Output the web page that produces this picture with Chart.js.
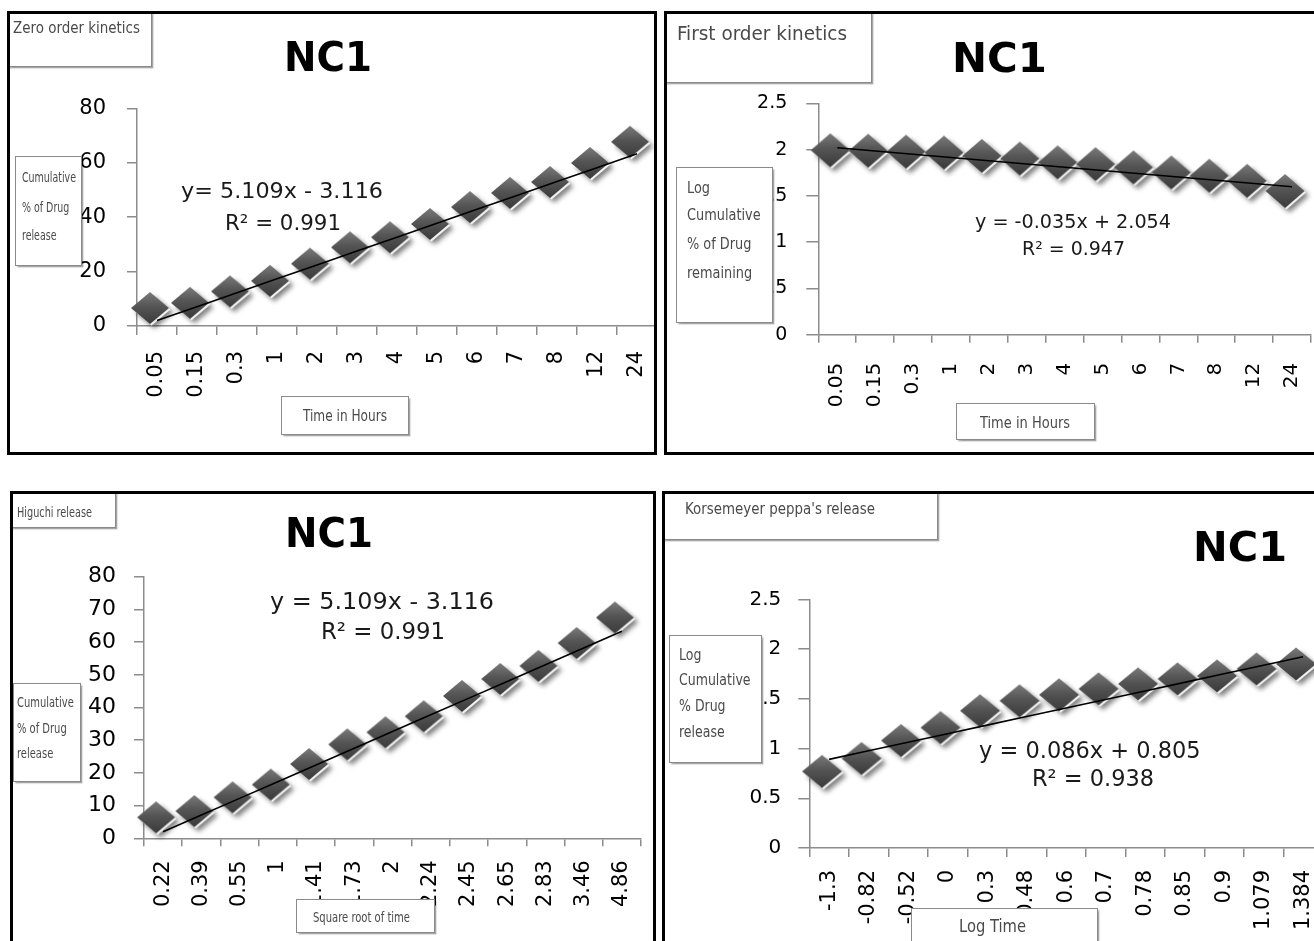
<!DOCTYPE html>
<html>
<head>
<meta charset="utf-8">
<title>NC1 release kinetics</title>
<script src="https://cdn.jsdelivr.net/npm/chart.js@4.4.1/dist/chart.umd.min.js"></script>
<style>
html,body{margin:0;padding:0;background:#fff;}
body{width:1314px;height:941px;position:relative;overflow:hidden;}
.panel{position:absolute;border:3px solid #000;box-sizing:border-box;overflow:hidden;background:#fff;}
.panel canvas{position:absolute;left:0;top:0;}
.box{position:absolute;background:#fff;border:1px solid #8a8a8a;box-sizing:border-box;box-shadow:1.5px 1.5px 1.5px rgba(0,0,0,0.35);}
.txt{position:absolute;white-space:nowrap;transform-origin:0 50%;}
</style>
</head>
<body>
<script>
// ---------- data ----------
const timeHours = ['0.05','0.15','0.3','1','2','3','4','5','6','7','8','12','24'];
const sqrtTime  = ['0.22','0.39','0.55','1','1.41','1.73','2','2.24','2.45','2.65','2.83','3.46','4.86'];
const logTime   = ['-1.3','-0.82','-0.52','0','0.3','0.48','0.6','0.7','0.78','0.85','0.9','1.079','1.384'];

const zeroOrderRelease = [5.5, 7.4, 11.6, 15.5, 21.8, 27.8, 31.5, 36.4, 42.6, 47.8, 51.8, 58.8, 66.6];
const firstOrderLogRemaining = [1.96, 1.955, 1.945, 1.935, 1.90, 1.87, 1.83, 1.81, 1.775, 1.72, 1.685, 1.63, 1.52];
const higuchiRelease = [5.5, 7.4, 11.6, 15.5, 21.8, 27.8, 31.5, 36.4, 42.6, 47.8, 51.8, 58.8, 66.6];
const korsmeyerLogRelease = [0.74, 0.87, 1.05, 1.18, 1.35, 1.45, 1.51, 1.57, 1.62, 1.67, 1.70, 1.77, 1.82];

// trendline coefficients as printed on the charts [slope, intercept]
const zeroFit = [5.109, -3.116];
const firstFit = [-0.035, 2.054];
const higuchiFit = [5.109, -3.116];
const korsmeyerFit = [0.086, 0.805];

const NUM_FONT = 'DejaVu Sans';
const BOX_FONT = '"Liberation Sans Narrow", "DejaVu Sans Condensed", sans-serif';

// ---------- helpers ----------
const mctx = document.createElement('canvas').getContext('2d');
function measure(str, font){ mctx.font = font; return mctx.measureText(str).width; }

function makeDiamond(w, h, dx, dy){
  const pad = 10;
  const cw = Math.ceil((w/2 + Math.abs(dx) + pad)) * 2;
  const ch = Math.ceil((h/2 + Math.abs(dy) + pad)) * 2;
  const c = document.createElement('canvas'); c.width = cw; c.height = ch;
  const g = c.getContext('2d');
  const cx = cw/2 + dx, cy = ch/2 + dy;
  const path = (ox, oy) => {
    g.beginPath();
    g.moveTo(cx + ox - w/2, cy + oy);
    g.lineTo(cx + ox, cy + oy - h/2);
    g.lineTo(cx + ox + w/2, cy + oy);
    g.lineTo(cx + ox, cy + oy + h/2);
    g.closePath();
  };
  g.save();
  g.shadowColor = 'rgba(0,0,0,0.5)'; g.shadowBlur = 5; g.shadowOffsetX = 3; g.shadowOffsetY = 3;
  path(1.5, 1.5); g.fillStyle = '#f2f2f2'; g.fill();
  g.restore();
  const grad = g.createLinearGradient(cx, cy - h/2, cx, cy + h/2);
  grad.addColorStop(0, '#7a7a7a'); grad.addColorStop(0.45, '#555555'); grad.addColorStop(1, '#3a3a3a');
  path(0, 0); g.fillStyle = grad; g.fill();
  return c;
}

function addBox(pel, org, x1, y1, x2, y2, edgesOnly){
  const d = document.createElement('div'); d.className = 'box';
  d.style.left = (x1 - org.x) + 'px'; d.style.top = (y1 - org.y) + 'px';
  d.style.width = (x2 - x1) + 'px'; d.style.height = (y2 - y1) + 'px';
  if (edgesOnly){ d.style.borderLeft = 'none'; d.style.borderTop = 'none'; }
  pel.appendChild(d);
}
function addText(pel, org, str, x, cy, size, family, weight, color, width, align, scaleOverride){
  const font = `${weight} ${size}px ${family}`;
  const w = measure(str, font);
  const sc = scaleOverride || (width ? width / w : 1);
  const left = align === 'center' ? x - (w * sc) / 2 : x;
  const s = document.createElement('div'); s.className = 'txt';
  s.textContent = str; s.style.font = font; s.style.lineHeight = size + 'px'; s.style.color = color;
  s.style.left = (left - org.x) + 'px'; s.style.top = (cy - size/2 - org.y) + 'px';
  s.style.transform = `scaleX(${sc})`;
  pel.appendChild(s);
  return sc;
}

// ---------- panel layout ----------
const specs = [
  { panel:{x:7,y:11,w:650,h:444}, area:{l:137,r:657,t:108.3,b:326},
    labels: timeHours, values: zeroOrderRelease, fit: zeroFit,
    yMax:80, yStep:20, yFont:21, yTick:10, yPad:21, xFont:21, xTick:9, xPad:16, dia:[38,32],
    title:{cx:328, cy:56.7, w:88},
    tBox:{r:[7,11,152,67], text:'Zero order kinetics', left:13, cy:27.7, w:127, fs:16},
    yBox:{r:[14.7,156,82,265.7], lines:['Cumulative','% of Drug','release'], cys:[176.7,206.7,235], left:22, w:54, fs:14},
    xBox:{r:[281,396,409,435], text:'Time in Hours', cx:345, cy:416, w:84, fs:15},
    eq:{fs:22, lines:[['y= 5.109x - 3.116',282,191,202],['R\u00b2 = 0.991',283,223,116]]} },
  { panel:{x:664,y:11,w:660,h:444}, area:{l:818.3,r:1312.5,t:103.3,b:334.7},
    labels: timeHours, values: firstOrderLogRemaining, fit: firstFit,
    yMax:2.5, yStep:0.5, yFont:19, yTick:12, yPad:19, xFont:20, xTick:8, xPad:20, dia:[39,34],
    title:{cx:999.6, cy:57.5, w:95},
    tBox:{r:[664,11,872.4,83.3], text:'First order kinetics', left:676.8, cy:32.7, w:170, fs:20},
    yBox:{r:[676,166.7,772.7,323.3], lines:['Log','Cumulative','% of Drug','remaining'], cys:[188.3,215.7,244,273.3], left:687.3, w:73.6, fs:15},
    xBox:{r:[955.6,403.3,1095,440], text:'Time in Hours', cx:1025, cy:422.7, w:90, fs:16},
    eq:{fs:19, lines:[['y = -0.035x + 2.054',1072.8,221.7,196],['R\u00b2 = 0.947',1073,248.3,103]]} },
  { panel:{x:10,y:491,w:646,h:460}, area:{l:144,r:641,t:576.7,b:838.3},
    labels: sqrtTime, values: higuchiRelease, fit: higuchiFit,
    yMax:80, yStep:10, yFont:22, yTick:10, yPad:18, xFont:21, xTick:8, xPad:14, dia:[38,32],
    title:{cx:329, cy:533, w:88},
    tBox:{r:[10,491,115.6,528.3], text:'Higuchi release', left:16.8, cy:511.7, w:75, fs:14},
    yBox:{r:[12.6,683.3,80.7,781.7], lines:['Cumulative','% of Drug','release'], cys:[701.7,728.3,753.3], left:16.8, w:56.8, fs:14},
    xBox:{r:[296,899.3,435,933.3], text:'Square root of time', cx:361, cy:916.7, w:97, fs:14},
    eq:{fs:23.5, lines:[['y = 5.109x - 3.116',382,602,224],['R\u00b2 = 0.991',383,632,124]]} },
  { panel:{x:662,y:491,w:660,h:460}, area:{l:809.3,r:1322.8,t:599.3,b:848},
    labels: logTime, values: korsmeyerLogRelease, fit: korsmeyerFit,
    yMax:2.5, yStep:0.5, yFont:20, yTick:11, yPad:17, xFont:21, xTick:9, xPad:13, dia:[40,33],
    title:{cx:1240, cy:546.7, w:94},
    tBox:{r:[662,491,938,540], text:"Korsemeyer peppa's release", left:685, cy:509.3, w:190, fs:15},
    yBox:{r:[669.3,635,761.8,763.3], lines:['Log','Cumulative','% Drug','release'], cys:[655,680,706.7,732.3], left:679, w:71.5, fs:15},
    xBox:{r:[911,908.3,1098,960], text:'Log Time', cx:992, cy:926.7, w:67, fs:17},
    eq:{fs:22.5, lines:[['y = 0.086x + 0.805',1090,750,221.6],['R\u00b2 = 0.938',1093,778.7,122]]} }
];

Chart.defaults.font.family = NUM_FONT;

function buildPanel(spec){
  const P = spec.panel, A = spec.area;
  const pel = document.createElement('div'); pel.className = 'panel';
  pel.style.left = P.x + 'px'; pel.style.top = P.y + 'px';
  pel.style.width = P.w + 'px'; pel.style.height = P.h + 'px';
  document.body.appendChild(pel);
  const org = {x: P.x + 3, y: P.y + 3};

  const padRight = 24, xH = 90;
  const W = Math.round(A.r - org.x + padRight);
  const H = Math.round(A.b - org.y + xH);
  const cv = document.createElement('canvas');
  cv.width = W; cv.height = H; cv.style.width = W + 'px'; cv.style.height = H + 'px';
  pel.appendChild(cv);
  const yW = A.l - org.x;
  const padTop = A.t - org.y;
  const xHeight = H - (A.b - org.y);
  const realRight = W - (A.r - org.x);

  const trend = spec.labels.map((_, i) => spec.fit[0] * (i + 1) + spec.fit[1]);
  const axisGray = '#8c8c8c';

  new Chart(cv, {
    type: 'line',
    data: {
      labels: spec.labels,
      datasets: [
        { data: trend, borderColor: '#000', borderWidth: 1.6, pointRadius: 0, fill: false, tension: 0, order: 0 },
        { data: spec.values, showLine: false, pointStyle: makeDiamond(spec.dia[0], spec.dia[1], -7, -3),
          pointRadius: 15, order: 1, clip: false }
      ]
    },
    options: {
      responsive: false, animation: false, events: [],
      layout: { padding: { left: 0, top: padTop, right: realRight, bottom: 0 } },
      plugins: { legend: { display: false }, tooltip: { enabled: false }, title: { display: false } },
      scales: {
        x: {
          type: 'category', offset: true,
          grid: { offset: true, drawOnChartArea: false, drawTicks: true, tickLength: spec.xTick, color: axisGray, lineWidth: 1.5 },
          border: { display: true, color: axisGray, width: 1.5 },
          ticks: { autoSkip: false, minRotation: 90, maxRotation: 90, padding: spec.xPad, color: '#000',
                   font: { family: NUM_FONT, size: spec.xFont } },
          afterFit: s => { s.height = xHeight; }
        },
        y: {
          min: 0, max: spec.yMax,
          grid: { drawOnChartArea: false, drawTicks: true, tickLength: spec.yTick, color: axisGray, lineWidth: 1.5 },
          border: { display: true, color: axisGray, width: 1.5 },
          ticks: { stepSize: spec.yStep, padding: spec.yPad, color: '#000',
                   font: { family: NUM_FONT, size: spec.yFont },
                   callback: v => String(+Number(v).toFixed(2)) },
          afterFit: s => { s.width = yW; }
        }
      }
    }
  });

  // overlays
  const tb = spec.tBox;
  addBox(pel, org, tb.r[0], tb.r[1], tb.r[2], tb.r[3], true);
  addText(pel, org, tb.text, tb.left, tb.cy, tb.fs, BOX_FONT, 'normal', '#4a4a4a', tb.w, 'left');

  const yb = spec.yBox;
  addBox(pel, org, yb.r[0], yb.r[1], yb.r[2], yb.r[3], false);
  const sc = measure('Cumulative', `normal ${yb.fs}px ${BOX_FONT}`);
  const scale = yb.w / sc;
  yb.lines.forEach((ln, i) => addText(pel, org, ln, yb.left, yb.cys[i], yb.fs, BOX_FONT, 'normal', '#4a4a4a', null, 'left', scale));

  const xb = spec.xBox;
  addBox(pel, org, xb.r[0], xb.r[1], xb.r[2], xb.r[3], false);
  addText(pel, org, xb.text, xb.cx, xb.cy, xb.fs, BOX_FONT, 'normal', '#4a4a4a', xb.w, 'center');

  addText(pel, org, 'NC1', spec.title.cx, spec.title.cy, 40, NUM_FONT, 'bold', '#000', spec.title.w, 'center');

  spec.eq.lines.forEach(l => addText(pel, org, l[0], l[1], l[2], spec.eq.fs, NUM_FONT, 'normal', '#1a1a1a', l[3], 'center'));
}

specs.forEach(buildPanel);
</script>
</body>
</html>
